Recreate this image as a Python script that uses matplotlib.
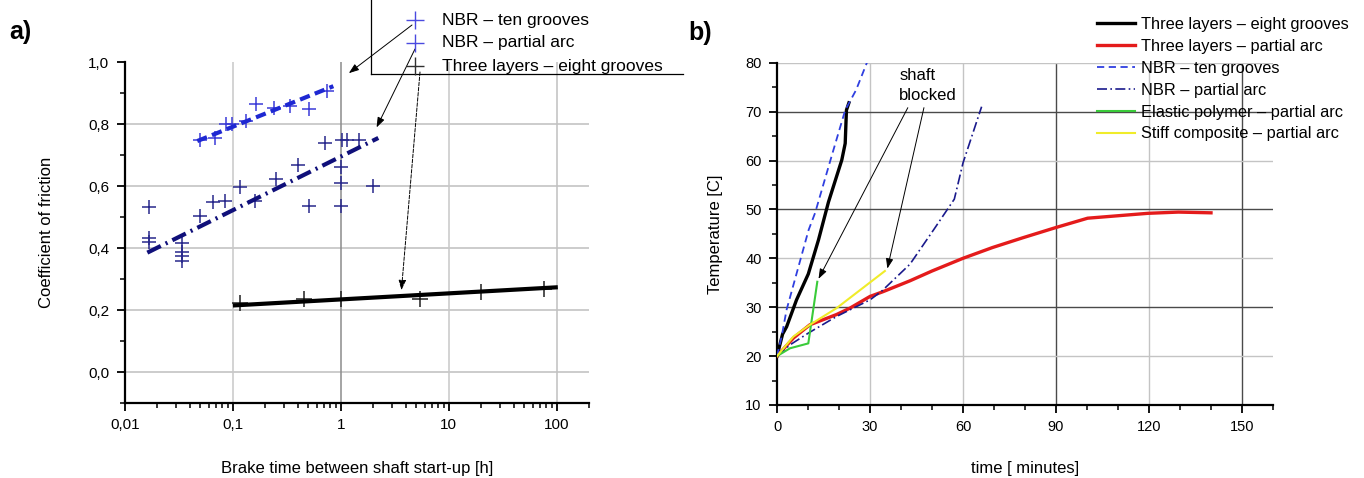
import numpy as np
import matplotlib
matplotlib.use("Agg")
import matplotlib.pyplot as plt
from matplotlib.ticker import MultipleLocator, LogLocator, NullFormatter, FixedLocator
from matplotlib.lines import Line2D

plt.rcParams['font.family'] = ['Liberation Sans', 'DejaVu Sans']

# ---------------- panel a) data ----------------
ten_x = [0.0499, 0.0686, 0.0867, 0.098, 0.133, 0.164, 0.242, 0.34, 0.506, 0.753]
ten_y = [0.749, 0.755, 0.800, 0.800, 0.811, 0.864, 0.851, 0.859, 0.848, 0.906]
ten_fit_x = [0.047, 0.855]
ten_fit_y = [0.745, 0.922]

arc_x = [0.0168, 0.0168, 0.0168, 0.0337, 0.0337, 0.0337, 0.0337, 0.0499, 0.0662,
         0.085, 0.117, 0.161, 0.252, 0.405, 0.506, 0.716, 1.02, 1.14, 1.49,
         1.0, 1.0, 1.0, 2.0]
arc_y = [0.532, 0.433, 0.419, 0.415, 0.387, 0.374, 0.358, 0.504, 0.550,
         0.553, 0.598, 0.553, 0.621, 0.667, 0.536, 0.739, 0.747, 0.747, 0.747,
         0.660, 0.609, 0.536, 0.600]
arc_fit_x = [0.0162, 2.23]
arc_fit_y = [0.385, 0.755]

three_x = [0.117, 0.455, 1.0, 5.4, 19.8, 75.7]
three_y = [0.221, 0.237, 0.237, 0.234, 0.259, 0.269]
three_fit_x = [0.105, 98.0]
three_fit_y = [0.215, 0.273]

a_labels = ["NBR \u2013 ten grooves", "NBR \u2013 partial arc", "Three layers \u2013 eight grooves"]
a_xticks = [0.01, 0.1, 1, 10, 100]
a_xticklabels = ["0,01", "0,1", "1", "10", "100"]
a_yticks = [0.0, 0.2, 0.4, 0.6, 0.8, 1.0]
a_yticklabels = ["0,0", "0,2", "0,4", "0,6", "0,8", "1,0"]
# arrow targets (data coords) from legend entries
a_arrow_x = [1.19, 2.15, 3.65]
a_arrow_y = [0.964, 0.789, 0.264]

# ---------------- panel b) data ----------------
black_t = [0, 1.8, 3.1, 6.3, 10.1, 13.4, 16.6, 20.9, 22.0, 22.4, 23.2]
black_T = [20, 24.5, 26.0, 31.5, 36.8, 43.8, 51.5, 60.1, 63.5, 70.3, 71.8]

red_t = [0, 5.3, 10.6, 19.2, 23.5, 30, 34.3, 42.9, 50, 60, 69.5, 79.3, 90, 100.2, 119.7, 129.5, 140]
red_T = [20, 23.7, 26.4, 28.5, 29.8, 32.2, 33.2, 35.4, 37.4, 40, 42.2, 44.2, 46.3, 48.2, 49.2, 49.45, 49.3]

blue_t = [0, 1.5, 3.1, 10.2, 12.3, 17.9, 22.0, 25.5, 29.0]
blue_T = [20, 24.0, 29.5, 45.8, 49.3, 61.5, 70.3, 74.4, 80.0]

navy_t = [0, 4.2, 10.1, 19.2, 30, 33.8, 42.9, 50.6, 57.2, 60, 66]
navy_T = [20, 22.3, 24.7, 28.1, 31.5, 33.3, 38.8, 45.9, 52.1, 59.5, 71]

green_t = [0, 4.2, 10.1, 13.0]
green_T = [20, 21.6, 22.6, 35.2]

yellow_t = [0, 5.3, 10.6, 19.2, 34.8]
yellow_T = [20, 24.0, 26.4, 29.8, 37.4]

b_labels = ["Three layers \u2013 eight grooves", "Three layers \u2013 partial arc",
            "NBR \u2013 ten grooves", "NBR \u2013 partial arc",
            "Elastic polymer \u2013 partial arc", "Stiff composite \u2013 partial arc"]
b_xticks = [0, 30, 60, 90, 120, 150]
b_yticks = [10, 20, 30, 40, 50, 60, 70, 80]
# annotation "shaft blocked": arrow tails and heads (data coords)
b_arrow_tail = [(42.2, 70.8), (47.4, 70.8)]
b_arrow_head = [(13.4, 35.8), (35.6, 37.9)]

# ---------------- figure ----------------
W, H = 1364, 478
fig = plt.figure(figsize=(W / 100, H / 100), dpi=100)

def fx(x):
    return x / W

def fy(y):
    return 1 - y / H

axA = fig.add_axes([fx(124.7), fy(403), fx(589.2) - fx(124.7), fy(62) - fy(403)])
axB = fig.add_axes([fx(777), fy(405), fx(1273) - fx(777), fy(62.7) - fy(405)])

# ---- panel a ----
axA.set_xscale('log')
axA.set_xlim(0.01, 200)
axA.set_ylim(-0.1, 1.0)

light = '#c4c4c4'
for yv in [0.0, 0.2, 0.4, 0.6, 0.8]:
    axA.axhline(yv, color=light, lw=1.2, zorder=0)
for xv, c in zip([0.1, 1, 10, 100], ['#c8c8c8', '#8c8c8c', '#c8c8c8', '#c0c0c0']):
    axA.axvline(xv, color=c, lw=1.1, zorder=0)

c_ten = '#3b3bd8'
c_tenline = '#1e28d2'
c_arc = '#28288c'
c_arcline = '#10107a'

axA.plot(ten_x, ten_y, ls='none', marker='+', ms=10, mew=1.1, color=c_ten, zorder=3)
axA.plot(ten_fit_x, ten_fit_y, color=c_tenline, lw=3, ls=(0, (2.5, 1.3)), zorder=4)
axA.plot(arc_x, arc_y, ls='none', marker='+', ms=10, mew=1.1, color=c_arc, zorder=3)
axA.plot(arc_fit_x, arc_fit_y, color=c_arcline, lw=3, ls=(0, (3.6, 1.3, 0.5, 1.3)), zorder=4)
axA.plot(three_x, three_y, ls='none', marker='+', ms=12, mew=1.1, color='#202020', zorder=3)
axA.plot(three_fit_x, three_fit_y, color='black', lw=3, zorder=4)

for s in ['top', 'right']:
    axA.spines[s].set_visible(False)
for s in ['left', 'bottom']:
    axA.spines[s].set_linewidth(1.6)

axA.xaxis.set_major_locator(FixedLocator(a_xticks))
axA.set_xticklabels(a_xticklabels)
axA.xaxis.set_minor_locator(LogLocator(base=10, subs=np.arange(2, 10)))
axA.xaxis.set_minor_formatter(NullFormatter())
axA.set_yticks(a_yticks)
axA.set_yticklabels(a_yticklabels)
axA.yaxis.set_minor_locator(MultipleLocator(0.1))
axA.tick_params(which='major', direction='out', length=6, width=1.3, labelsize=11, pad=5)
axA.tick_params(which='minor', direction='out', length=3.5, width=1.1)

axA.set_xlabel("Brake time between shaft start-up [h]", fontsize=12, va='center')
axA.xaxis.set_label_coords(0.5, (403 - 468) / 341)
axA.set_ylabel("Coefficient of friction", fontsize=12, va='center', ha='center')
axA.yaxis.set_label_coords((46 - 124.7) / 464.5, 0.5)

# legend box (left / bottom edges only) with markers and arrows
fig.add_artist(Line2D([fx(371), fx(371)], [fy(0), fy(74)], color='black', lw=0.9))
fig.add_artist(Line2D([fx(371), fx(683)], [fy(74), fy(74)], color='black', lw=0.9))
leg_rows = [20, 43, 66]
leg_cols = ['#4a4ae0', '#4a4ae0', '#303030']
for lab, yy, cc in zip(a_labels, leg_rows, leg_cols):
    fig.add_artist(Line2D([fx(415)], [fy(yy)], ls='none', marker='+', ms=13, mew=1.0, color=cc))
    fig.text(fx(442), fy(yy), lab, fontsize=12.5, va='center', ha='left')

for i, (tx, ty) in enumerate(zip(a_arrow_x, a_arrow_y)):
    start = [(412, 25), (415, 49), (420, 72)][i]
    axA.annotate('', xy=(tx, ty), xycoords='data',
                 xytext=(start[0], H - start[1]), textcoords='figure pixels',
                 annotation_clip=False,
                 arrowprops=dict(arrowstyle='-|>,head_length=0.6,head_width=0.22',
                                 color='black', lw=0.7,
                                 ls='--' if i == 2 else '-',
                                 shrinkA=0, shrinkB=0))

fig.text(fx(9), fy(32), "a)", fontsize=18, fontweight='bold', va='center', ha='left')

# ---- panel b ----
axB.set_xlim(0, 160)
axB.set_ylim(10, 80)
dark = '#4a4a4a'
for xv, c in zip([30, 60, 90, 120, 150], [light, light, dark, light, dark]):
    axB.axvline(xv, color=c, lw=1.0, zorder=0)
for yv, c in zip([20, 30, 40, 50, 60, 70, 80], [light, dark, light, dark, light, dark, light]):
    axB.axhline(yv, color=c, lw=1.0, zorder=0)

h1, = axB.plot(black_t, black_T, color='black', lw=2.4, label=b_labels[0], zorder=3)
h2, = axB.plot(red_t, red_T, color='#e41b1b', lw=2.4, label=b_labels[1], zorder=3)
h3, = axB.plot(blue_t, blue_T, color='#2f3fe0', lw=1.3, ls=(0, (4, 2.5)), label=b_labels[2], zorder=3)
h4, = axB.plot(navy_t, navy_T, color='#1a1a8c', lw=1.2, ls=(0, (6, 2, 1, 2)), label=b_labels[3], zorder=3)
h5, = axB.plot(green_t, green_T, color='#3acb3a', lw=1.5, label=b_labels[4], zorder=3)
h6, = axB.plot(yellow_t, yellow_T, color='#f0ec2a', lw=1.5, label=b_labels[5], zorder=3)

for s in ['top', 'right']:
    axB.spines[s].set_visible(False)
for s in ['left', 'bottom']:
    axB.spines[s].set_linewidth(1.6)

axB.set_xticks(b_xticks)
axB.set_yticks(b_yticks)
axB.xaxis.set_minor_locator(MultipleLocator(10))
axB.yaxis.set_minor_locator(MultipleLocator(5))
axB.tick_params(which='major', direction='out', length=6, width=1.3, labelsize=10.5, pad=5)
axB.tick_params(which='minor', direction='out', length=3.5, width=1.1)

axB.set_xlabel("time [ minutes]", fontsize=12, va='center')
axB.xaxis.set_label_coords(0.5, (405 - 468) / 342.3)
axB.set_ylabel("Temperature [C]", fontsize=12, va='center', ha='center')
axB.yaxis.set_label_coords((715 - 777) / 496, 0.5)

leg = axB.legend(handles=[h1, h2, h3, h4, h5, h6], loc='upper left',
                 bbox_to_anchor=(fx(1097), fy(17)), bbox_transform=fig.transFigure,
                 frameon=False, fontsize=11.8, handlelength=2.3, handletextpad=0.4,
                 labelspacing=0.42, borderpad=0, borderaxespad=0)

axB.text(39.4, 77.3, "shaft", fontsize=12, ha='left', va='center')
axB.text(39.4, 73.3, "blocked", fontsize=12, ha='left', va='center')
for (tx, ty), (hx, hy) in zip(b_arrow_tail, b_arrow_head):
    axB.annotate('', xy=(hx, hy), xytext=(tx, ty),
                 arrowprops=dict(arrowstyle='-|>,head_length=0.6,head_width=0.22',
                                 color='black', lw=0.7, shrinkA=0, shrinkB=0))

fig.text(fx(688), fy(33), "b)", fontsize=18, fontweight='bold', va='center', ha='left')

fig.savefig("out.png", dpi=100)
